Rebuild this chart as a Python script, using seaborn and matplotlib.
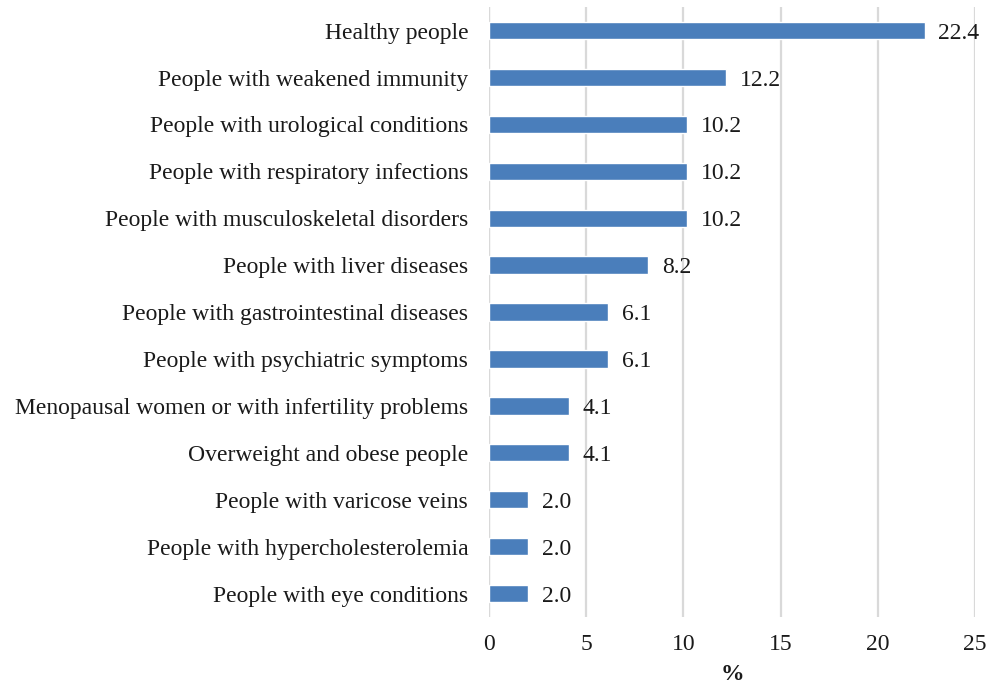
import matplotlib
matplotlib.use("Agg")
import matplotlib.pyplot as plt
import seaborn as sns
import pandas as pd

categories = [
    "Healthy people",
    "People with weakened immunity",
    "People with urological conditions",
    "People with respiratory infections",
    "People with musculoskeletal disorders",
    "People with liver diseases",
    "People with gastrointestinal diseases",
    "People with psychiatric symptoms",
    "Menopausal women or with infertility problems",
    "Overweight and obese people",
    "People with varicose veins",
    "People with hypercholesterolemia",
    "People with eye conditions",
]
percent = [22.4, 12.2, 10.2, 10.2, 10.2, 8.2, 6.1, 6.1, 4.1, 4.1, 2.0, 2.0, 2.0]
x_ticks = [0, 5, 10, 15, 20, 25]

df = pd.DataFrame({"group": categories, "pct": percent})

sns.set_theme(style="white")
plt.rcParams["font.family"] = ["Liberation Serif", "DejaVu Serif"]

FS = 17
TXT = "#1a1a1a"

fig = plt.figure(figsize=(9.9, 6.86), dpi=100)
ax = fig.add_axes([0.494, 0.1006, 0.491, 0.889])

sns.barplot(data=df, x="pct", y="group", orient="h", color="#4a7ebb",
            width=0.37, saturation=1, ax=ax, zorder=3)

ax.set_xlim(0, 25)
ax.set_xticks(x_ticks)
ax.set_xticklabels([str(t) for t in x_ticks], fontsize=FS, color=TXT)
ax.tick_params(axis="y", labelsize=FS, labelcolor=TXT, length=0, pad=15)
ax.tick_params(axis="x", length=0, pad=12)
ax.grid(axis="x", color="#d9d9d9", linewidth=1.6, zorder=0)
ax.grid(axis="y", visible=False)
for s in ax.spines.values():
    s.set_visible(False)
ax.axvline(0, color="#d9d9d9", linewidth=1.6, zorder=1)

ax.set_ylabel("")
ax.set_xlabel("%", fontsize=FS, fontweight="bold", color=TXT, labelpad=7)

for i, v in enumerate(percent):
    ax.annotate(f"{v:.1f}", xy=(v, i), xytext=(10, 0), textcoords="offset points",
                ha="left", va="center_baseline", fontsize=FS, color=TXT)

fig.savefig("out.png", dpi=100)
